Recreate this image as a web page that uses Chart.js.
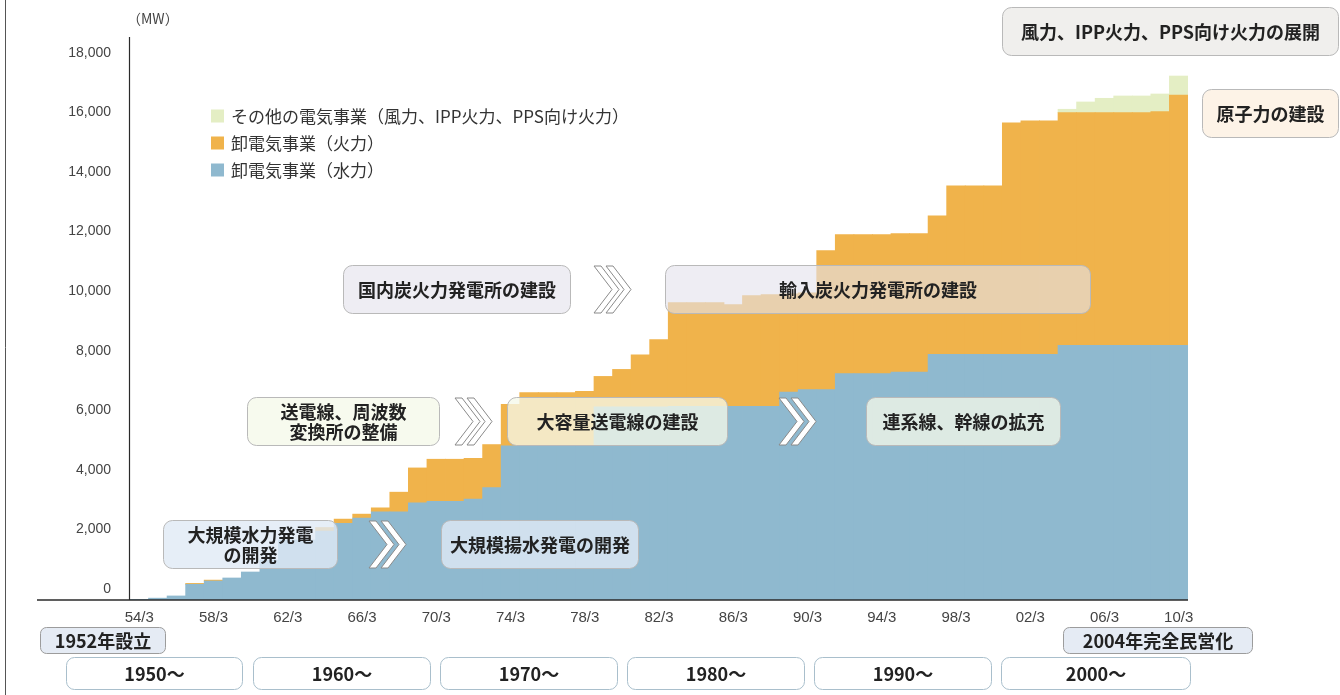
<!DOCTYPE html>
<html>
<head>
<meta charset="utf-8">
<script src="https://cdn.jsdelivr.net/npm/chart.js@4.4.0/dist/chart.umd.min.js"></script>
<style>
html,body{margin:0;padding:0;background:#fff;overflow:hidden}
canvas{display:block}
</style>
</head>
<body>
<canvas id="c" width="1340" height="695"></canvas>
<script>
// ---- data (MW), fiscal year-end March ----
const categories = ['54/3','55/3','56/3','57/3','58/3','59/3','60/3','61/3','62/3','63/3',
  '64/3','65/3','66/3','67/3','68/3','69/3','70/3','71/3','72/3','73/3',
  '74/3','75/3','76/3','77/3','78/3','79/3','80/3','81/3','82/3','83/3',
  '84/3','85/3','86/3','87/3','88/3','89/3','90/3','91/3','92/3','93/3',
  '94/3','95/3','96/3','97/3','98/3','99/3','00/3','01/3','02/3','03/3',
  '04/3','05/3','06/3','07/3','08/3','09/3','10/3'];
const tickLabels = ['54/3','58/3','62/3','66/3','70/3','74/3','78/3','82/3','86/3','90/3','94/3','98/3','02/3','06/3','10/3'];
const hydro = [20,60,134,526,636,737,938,1340,2010,2010,
  2312,2570,2747,2958,2958,3260,3306,3306,3384,3775,
  5169,5169,5169,5169,5169,6480,6480,6480,6480,6499,
  6499,6499,6499,6499,6499,6978,7058,7058,7595,7595,
  7595,7648,7648,8241,8241,8241,8241,8241,8241,8241,
  8543,8543,8543,8543,8543,8543,8543];
const thermal = [0,0,0,30,30,0,0,0,0,0,
  120,144,134,134,660,1172,1418,1418,1373,1441,
  1397,1789,1789,1789,1833,1024,1259,1751,2264,3484,
  3484,3484,3417,3719,3752,3296,3250,4667,4666,4666,
  4666,4647,4647,4657,5662,5662,5662,7772,7839,7839,
  7815,7815,7815,7815,7815,7849,8408];
const others = [0,0,0,0,0,0,0,0,0,0,
  0,0,0,0,0,0,0,0,0,0,
  0,0,0,0,0,0,0,0,0,0,
  0,0,0,0,0,0,0,0,0,0,
  0,0,0,0,0,0,0,0,0,0,
  114,359,482,560,560,593,637];
const seriesNames = ['卸電気事業（水力）','卸電気事業（火力）','その他の電気事業（風力、IPP火力、PPS向け火力）'];
const seriesColors = ['#8fb9cf','#f0b34b','#e4eec4'];
const yTicks = [0,2000,4000,6000,8000,10000,12000,14000,16000,18000];

const CJK = '"Noto Sans CJK JP","Noto Sans",sans-serif';
const LAT = '"Liberation Sans",Arial,sans-serif';

// ---- annotation boxes ----
const noteFillPurple = 'rgba(227,226,236,0.62)';
const noteFillCream = 'rgba(244,248,233,0.77)';
const noteFillBlue = 'rgba(224,234,245,0.8)';
const boxes = [
  {x:1002.5,y:7.5,w:336,h:48,fill:'#f0efed',stroke:'#b9b9b9',r:9,lines:['風力、IPP火力、PPS向け火力の展開']},
  {x:1202.5,y:89.5,w:136,h:48,fill:'#fdf3e7',stroke:'#b9b9b9',r:9,lines:['原子力の建設']},
  {x:343.5,y:265.5,w:227,h:48,fill:noteFillPurple,stroke:'#b9b9b9',r:9,lines:['国内炭火力発電所の建設']},
  {x:665.5,y:265.5,w:425,h:48,fill:noteFillPurple,stroke:'#b9b9b9',r:9,lines:['輸入炭火力発電所の建設']},
  {x:247.5,y:397.5,w:192,h:48,fill:noteFillCream,stroke:'#b9b9b9',r:9,lines:['送電線、周波数','変換所の整備']},
  {x:507.5,y:397.5,w:220,h:48,fill:noteFillCream,stroke:'#b9b9b9',r:9,lines:['大容量送電線の建設']},
  {x:866.5,y:397.5,w:194,h:48,fill:noteFillCream,stroke:'#b9b9b9',r:9,lines:['連系線、幹線の拡充']},
  {x:163.5,y:520.5,w:174,h:48,fill:noteFillBlue,stroke:'#b9b9b9',r:9,lines:['大規模水力発電','の開発']},
  {x:441.5,y:520.5,w:197,h:48,fill:noteFillBlue,stroke:'#b9b9b9',r:9,lines:['大規模揚水発電の開発']},
  {x:40.5,y:627.5,w:125,h:26,fill:'#e5ebf4',stroke:'#9c9c9c',r:6,lines:['1952年設立']},
  {x:1063.5,y:627.5,w:189,h:26,fill:'#e5ebf4',stroke:'#9c9c9c',r:6,lines:['2004年完全民営化']},
  {x:66.5,y:657.5,w:176,h:32,fill:'#ffffff',stroke:'#a9bfcc',r:8,lines:['1950〜']},
  {x:253.5,y:657.5,w:177,h:32,fill:'#ffffff',stroke:'#a9bfcc',r:8,lines:['1960〜']},
  {x:440.5,y:657.5,w:177,h:32,fill:'#ffffff',stroke:'#a9bfcc',r:8,lines:['1970〜']},
  {x:627.5,y:657.5,w:177,h:32,fill:'#ffffff',stroke:'#a9bfcc',r:8,lines:['1980〜']},
  {x:814.5,y:657.5,w:177,h:32,fill:'#ffffff',stroke:'#a9bfcc',r:8,lines:['1990〜']},
  {x:1001.5,y:657.5,w:189,h:32,fill:'#ffffff',stroke:'#a9bfcc',r:8,lines:['2000〜']}
];
const chevrons = [{x:594,y:266},{x:455,y:398},{x:779,y:398},{x:369,y:521}];

function rr(ctx,x,y,w,h,r){
  ctx.beginPath();
  ctx.moveTo(x+r,y);
  ctx.arcTo(x+w,y,x+w,y+h,r);
  ctx.arcTo(x+w,y+h,x,y+h,r);
  ctx.arcTo(x,y+h,x,y,r);
  ctx.arcTo(x,y,x+w,y,r);
  ctx.closePath();
}
function chevron(ctx,a,top,h){
  const d=7, D=18, mid=top+h/2, bot=top+h;
  ctx.beginPath();
  ctx.moveTo(a,top); ctx.lineTo(a+d,top); ctx.lineTo(a+d+D,mid);
  ctx.lineTo(a+d,bot); ctx.lineTo(a,bot); ctx.lineTo(a+D,mid);
  ctx.closePath();
  ctx.fillStyle='#ffffff'; ctx.fill();
  ctx.strokeStyle='#8a8a8a'; ctx.lineWidth=1; ctx.stroke();
}

const decor = {
  id:'decor',
  afterDraw(chart){
    const ctx = chart.ctx;
    const ca = chart.chartArea;
    ctx.save();
    // page frame line
    ctx.strokeStyle='#555'; ctx.lineWidth=1;
    ctx.beginPath(); ctx.moveTo(5.5,0); ctx.lineTo(5.5,695); ctx.stroke();
    // axes
    ctx.strokeStyle='#2a2a2a'; ctx.lineWidth=1.3;
    ctx.beginPath(); ctx.moveTo(37,ca.bottom); ctx.lineTo(ca.right,ca.bottom); ctx.stroke();
    ctx.lineWidth=1.2;
    ctx.beginPath(); ctx.moveTo(ca.left-0.5,ca.top); ctx.lineTo(ca.left-0.5,ca.bottom); ctx.stroke();
    // unit
    ctx.fillStyle='#444'; ctx.font='14px '+CJK; ctx.textAlign='left'; ctx.textBaseline='middle';
    ctx.fillText('（MW）',127,19);
    // boxes
    boxes.forEach(b=>{
      rr(ctx,b.x,b.y,b.w,b.h,b.r);
      ctx.fillStyle=b.fill; ctx.fill();
      ctx.strokeStyle=b.stroke; ctx.lineWidth=1; ctx.stroke();
      ctx.fillStyle='#222'; ctx.font='bold 18px '+CJK; ctx.textAlign='center'; ctx.textBaseline='middle';
      const cx=b.x+b.w/2, cy=b.y+b.h/2+1;
      if(b.lines.length===1){ ctx.fillText(b.lines[0],cx,cy); }
      else { ctx.fillText(b.lines[0],cx,cy-10); ctx.fillText(b.lines[1],cx,cy+10); }
    });
    chevrons.forEach(c=>{ chevron(ctx,c.x,c.y,47); chevron(ctx,c.x+12,c.y,47); });
    // legend (top series first)
    const order=[2,1,0];
    order.forEach((si,k)=>{
      const cy=116+k*27;
      ctx.fillStyle=seriesColors[si]; ctx.fillRect(211,cy-6.5,13,13);
      ctx.fillStyle='#333'; ctx.font='17px '+CJK; ctx.textAlign='left'; ctx.textBaseline='middle';
      ctx.fillText(seriesNames[si],231,cy+1);
    });
    ctx.restore();
  }
};

new Chart(document.getElementById('c').getContext('2d'),{
  type:'bar',
  data:{
    labels:categories,
    datasets:[
      {label:seriesNames[0],data:hydro.map(v=>v||null),backgroundColor:seriesColors[0]},
      {label:seriesNames[1],data:thermal.map(v=>v||null),backgroundColor:seriesColors[1]},
      {label:seriesNames[2],data:others.map(v=>v||null),backgroundColor:seriesColors[2]}
    ]
  },
  options:{
    responsive:false,animation:false,devicePixelRatio:1,
    layout:{padding:{left:0,right:152,top:37,bottom:55}},
    datasets:{bar:{categoryPercentage:1,barPercentage:1,borderWidth:0,inflateAmount:0.4}},
    plugins:{legend:{display:false},tooltip:{enabled:false}},
    scales:{
      x:{stacked:true,grid:{display:false},border:{display:false},
        ticks:{autoSkip:false,maxRotation:0,minRotation:0,padding:1,color:'#444',font:{family:LAT,size:15},
          callback:function(v,i){const l=categories[i];return tickLabels.includes(l)?l:'';}},
        afterFit:s=>{s.height=40;}},
      y:{stacked:true,min:0,max:18900,grid:{display:false},border:{display:false},
        afterBuildTicks:s=>{s.ticks=yTicks.map(v=>({value:v}));},
        ticks:{padding:11,labelOffset:-11,color:'#444',font:{family:LAT,size:14},
          callback:v=>Number(v).toLocaleString('en-US')},
        afterFit:s=>{s.width=130;}}
    }
  },
  plugins:[decor]
});
</script>
</body>
</html>
